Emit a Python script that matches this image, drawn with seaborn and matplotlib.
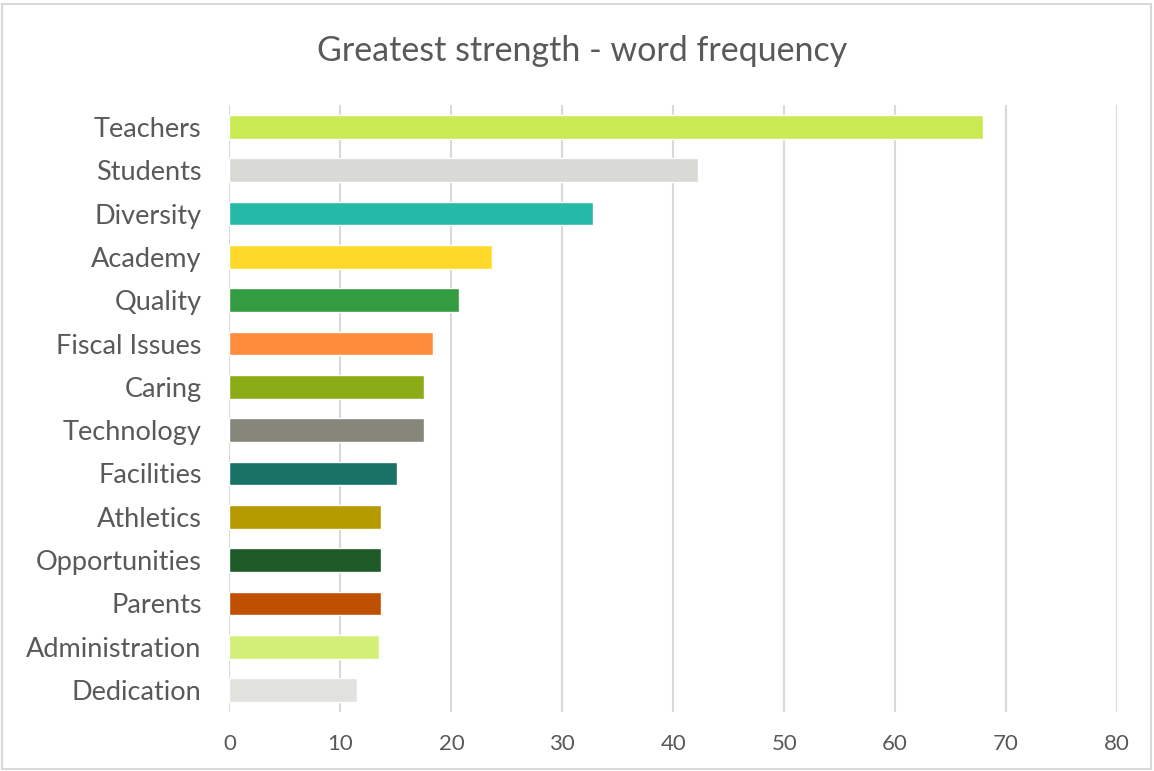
import matplotlib
matplotlib.use("Agg")
import matplotlib.pyplot as plt
import seaborn as sns
import pandas as pd
from matplotlib.patches import Rectangle

categories = ["Teachers", "Students", "Diversity", "Academy", "Quality", "Fiscal Issues",
              "Caring", "Technology", "Facilities", "Athletics", "Opportunities",
              "Parents", "Administration", "Dedication"]
values = [67.9, 42.2, 32.8, 23.7, 20.7, 18.3, 17.5, 17.5, 15.1, 13.7, 13.7, 13.7, 13.5, 11.5]
colors = ["#C9EA52", "#D9D9D5", "#25B9A7", "#FFD92A", "#339C41", "#FF8D3C", "#8BAC16",
          "#86867A", "#187265", "#B59A00", "#1D5A28", "#BF5000", "#D4EF78", "#E1E2DE"]
x_ticks = [0, 10, 20, 30, 40, 50, 60, 70, 80]
title = "Greatest strength - word frequency"

sns.set_theme(style="white")
plt.rcParams['font.family'] = ['Lato', 'DejaVu Sans']

df = pd.DataFrame({"word": categories, "freq": values})

fig = plt.figure(figsize=(11.54, 7.71), dpi=100)
ax = fig.add_axes([229.5 / 1154, 1 - 711.7 / 771, (1117 - 229.5) / 1154, (711.7 - 105.3) / 771])

sns.barplot(data=df, y="word", x="freq", hue="word", palette=colors, legend=False,
            orient="h", width=0.55, ax=ax, zorder=3, saturation=1)

ax.set_xlim(0, 80)
ax.set_xticks(x_ticks)
ax.set_xticklabels([str(t) for t in x_ticks])
ax.set_xlabel("")
ax.set_ylabel("")
for s in ax.spines.values():
    s.set_visible(False)
ax.grid(axis="x", color="#D9D9D9", linewidth=1.5, zorder=0)
ax.grid(axis="y", visible=False)
ax.tick_params(axis="y", labelsize=19.5, colors="#595959", length=0, pad=20)
ax.tick_params(axis="x", labelsize=16, colors="#595959", length=0, pad=16)

fig.text(582 / 1154, 1 - 51 / 771, title, ha="center", va="center", fontsize=24.5, color="#595959")

fig.patches.append(Rectangle((2 / 1154, 2 / 771), 1149 / 1154, 765 / 771, transform=fig.transFigure,
                             fill=False, edgecolor="#D9D9D9", linewidth=1.5))

fig.savefig("out.png", dpi=100)
